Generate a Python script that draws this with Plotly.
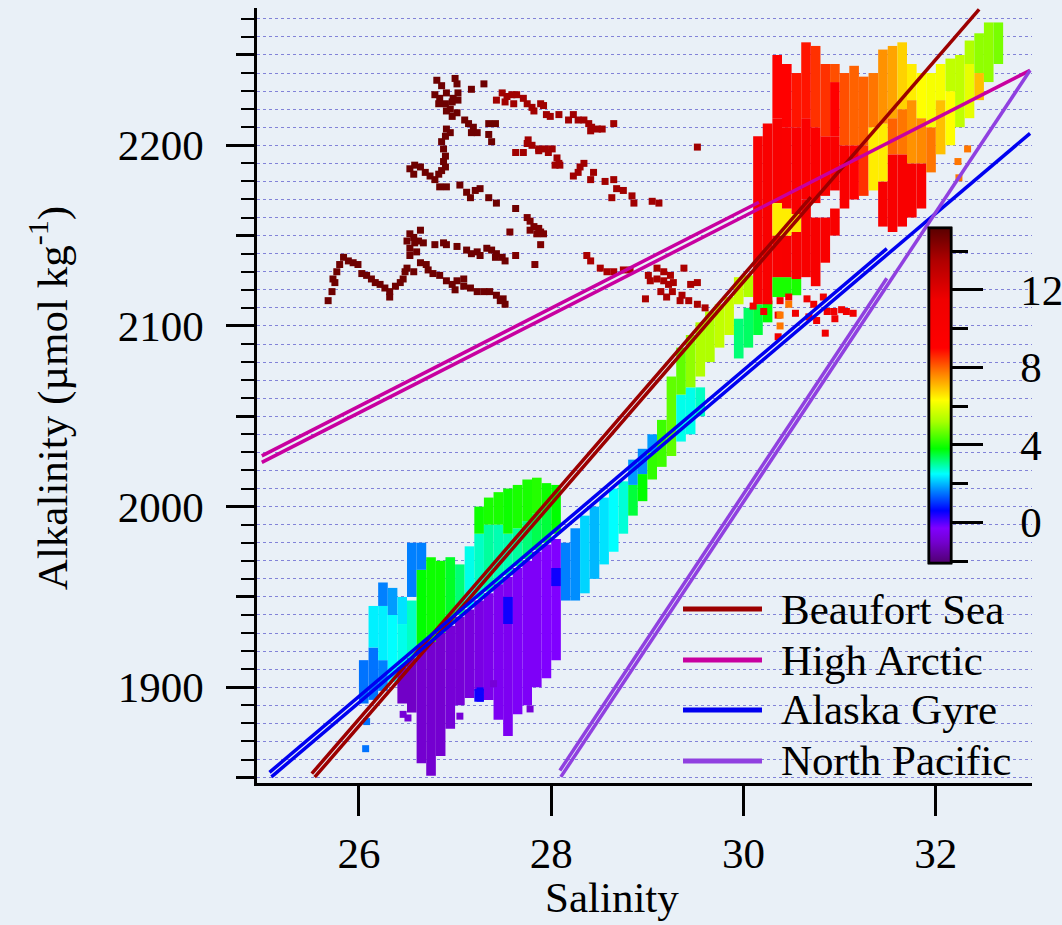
import plotly.graph_objects as go

FONT = "Liberation Serif"
BG = "#e9f0f7"
GRID = "rgba(95,95,205,0.75)"

# ---------------- sparse points (salinity, alkalinity, temperature) ----------------
# dark red points, upper left (T ~ 14.8)
dark_sal = [26.81, 26.86, 27.00, 27.02, 26.79, 26.84, 26.91, 26.98, 27.03, 26.83, 26.90, 26.97, 27.03, 26.95, 27.02,
            26.97, 26.91, 27.17, 27.30, 27.10, 27.14, 27.19, 27.23, 27.17, 26.91, 26.95, 26.90, 26.86, 26.88, 26.90,
            26.88, 26.90, 26.86, 26.53, 26.58, 26.64, 26.69, 26.74, 26.79, 26.83, 26.57, 26.84, 26.91, 27.05, 27.12,
            27.16, 27.21, 27.26, 27.35, 27.43, 27.63, 27.35, 27.42, 27.35, 27.38,
            26.53, 26.57, 26.50, 26.58, 26.53, 26.62, 26.67, 26.64, 26.53, 26.60, 26.79, 26.88, 26.91, 27.02, 27.12,
            27.17, 27.23, 27.26, 27.33, 27.38, 27.43, 27.49, 27.52, 27.42, 26.64, 26.70, 26.72, 26.57, 26.50,
            25.84, 25.89, 25.94, 25.99, 25.80, 25.77, 25.73, 25.75, 25.72, 25.68, 26.03, 26.08, 26.13, 26.17, 26.22,
            26.27, 26.32, 26.38, 26.43, 26.46, 26.48, 26.32, 26.77, 26.84, 26.91, 26.97, 27.02, 27.09, 27.09, 27.16,
            27.23, 27.30, 27.36, 27.43, 27.50, 27.52, 27.47, 27.00]
dark_alk = [2236, 2233, 2237, 2234, 2228, 2226, 2229, 2226, 2229, 2223, 2223, 2224, 2225, 2220, 2218,
            2216, 2219, 2231, 2234, 2214, 2212, 2210, 2207, 2207, 2209, 2207, 2205, 2202, 2198, 2194,
            2191, 2188, 2186, 2187, 2189, 2188, 2185, 2183, 2181, 2184, 2184, 2177, 2177, 2178, 2174,
            2171, 2175, 2176, 2171, 2168, 2165, 2212, 2212, 2206, 2202,
            2151, 2149, 2147, 2146, 2143, 2147, 2146, 2153, 2139, 2141, 2145, 2146, 2145, 2144, 2142,
            2140, 2141, 2139, 2143, 2142, 2140, 2138, 2136, 2138, 2135, 2134, 2131, 2130, 2132,
            2138, 2136, 2135, 2134, 2134, 2130, 2126, 2124, 2119, 2114, 2129, 2128, 2126, 2124, 2123,
            2121, 2119, 2122, 2124, 2126, 2130, 2116, 2129, 2128, 2125, 2123, 2125, 2126, 2122, 2121,
            2119, 2119, 2119, 2117, 2115, 2112, 2114, 2120]
dark_temp = 14.8

# middle cluster (T ~ 14.5)
mid_sal = [27.75, 27.78, 27.82, 27.87, 27.89, 27.92, 27.85, 27.78, 27.89, 27.57, 27.63, 27.83]
mid_alk = [2160, 2158, 2155, 2154, 2152, 2151, 2151, 2153, 2145, 2152, 2139, 2134]
mid_temp = 14.5

# two arcs to the right (T ~ 13.8)
arc_sal = [27.49, 27.54, 27.59, 27.64, 27.71, 27.43, 27.52, 27.61, 27.75, 27.80, 27.89, 27.92, 27.82, 27.95, 27.99,
           28.08, 28.18, 28.23, 28.28, 28.34, 28.39, 28.42, 28.48, 28.53, 28.41, 28.65,
           27.76, 27.75, 27.80, 27.87, 27.87, 27.94, 27.97, 28.01, 28.06, 28.08, 28.04, 28.09, 27.63, 27.71, 28.34,
           28.30, 28.28, 28.23, 28.44, 28.41, 28.56, 28.65, 28.68, 28.75, 28.84, 28.86, 28.63, 29.05, 29.12, 29.52]
arc_alk = [2229, 2227, 2228, 2228, 2226, 2225, 2224, 2223, 2223, 2221, 2223, 2222, 2219, 2217, 2216,
           2217, 2214, 2217, 2214, 2214, 2212, 2210, 2209, 2209, 2208, 2212,
           2203, 2201, 2200, 2198, 2197, 2198, 2196, 2198, 2193, 2190, 2189, 2189, 2196, 2196, 2190,
           2188, 2185, 2183, 2185, 2181, 2180, 2181, 2176, 2175, 2172, 2168, 2171, 2169, 2168, 2199]
arc_temp = 13.8

# lower band of red-brown points (T ~ 13.6)
low_sal = [28.37, 28.41, 28.51, 28.58, 28.65, 28.75, 28.82, 29.01, 29.03, 29.10, 29.17, 29.24, 29.38, 29.10,
           29.17, 29.22, 29.27, 29.26, 29.14, 29.20, 28.98, 29.36, 29.45, 29.52, 29.34, 29.43, 29.52, 29.60]
low_alk = [2139, 2136, 2132, 2130, 2130, 2131, 2131, 2128, 2125, 2132, 2130, 2128, 2132, 2126,
           2125, 2123, 2124, 2119, 2119, 2116, 2115, 2117, 2123, 2124, 2114, 2114, 2112, 2110]
low_temp = 13.6

# red points right of the Beaufort line (T ~ 11.5)
red_sal = [30.10, 30.21, 30.36, 30.38, 30.47, 30.66, 30.68, 30.73, 30.76, 30.83, 30.85, 30.87, 30.94, 30.95,
           31.02, 31.07, 31.14, 30.36, 30.54]
red_alk = [2111, 2108, 2106, 2114, 2116, 2115, 2105, 2112, 2103, 2116, 2096, 2108, 2108, 2104,
           2109, 2108, 2107, 2094, 2107]
red_temp = 11.5

# orange points (T ~ 7.8)
orange_sal = [30.38, 30.38, 30.47, 32.33, 32.23, 32.24]
orange_alk = [2106, 2100, 2112, 2198, 2191, 2182]
orange_temp = 7.8

# isolated specks near the bottom of the low-salinity cloud
speck_sal = [26.08, 26.07, 26.46, 26.51, 27.05, 27.78, 27.40, 27.26, 27.26]
speck_alk = [1881, 1866, 1885, 1883, 1884, 1888, 1902, 1898, 1894]
speck_temp = [1.5, 1.5, -0.9, -0.9, -0.9, -0.9, -0.9, 0.5, 0.5]

# ---------------- dense clouds: vertical runs (salinity, alk low, alk high, temperature) ----------------
lower_sal = [26.05, 26.15, 26.15, 26.25, 26.25, 26.25, 26.35, 26.35, 26.45, 26.45,
             26.55, 26.55, 26.65, 26.65, 26.75, 26.85, 26.95, 27.05, 27.15, 27.25,
             27.25, 27.35, 27.35, 27.45, 27.45, 27.55, 27.55, 27.65, 27.65, 27.75,
             27.75, 27.85, 27.85, 27.95, 27.95, 28.05,
             26.45, 26.55, 26.65, 26.75, 26.85, 26.95, 27.05, 27.15, 27.25, 27.35,
             27.45, 27.55, 27.65, 27.75, 27.85, 27.95, 28.05,
             27.55, 28.05, 27.25]
lower_lo = [1891, 1893, 1922, 1898, 1915, 1945, 1903, 1940, 1908, 1935,
            1912, 1950, 1921, 1965, 1925, 1930, 1935, 1940, 1944, 1949,
            1985, 1953, 1990, 1957, 1990, 1962, 1985, 1967, 1988, 1971,
            1992, 1976, 1996, 1980, 2000, 1985,
            1891, 1886, 1858, 1851, 1862, 1877, 1890, 1894, 1898, 1893,
            1882, 1873, 1885, 1890, 1900, 1905, 1915,
            1935, 1956, 1892]
lower_hi = [1915, 1922, 1945, 1915, 1945, 1958, 1940, 1955, 1935, 1950,
            1948, 1980, 1965, 1980, 1972, 1970, 1972, 1968, 1978, 1985,
            2000, 1990, 2005, 1990, 2008, 1985, 2010, 1988, 2012, 1992,
            2015, 1996, 2016, 2000, 2013, 2012,
            1911, 1916, 1921, 1925, 1930, 1934, 1939, 1943, 1948, 1952,
            1957, 1961, 1966, 1970, 1975, 1979, 1982,
            1950, 1966, 1899]
lower_temp = [1.5, 1.5, 2.4, 1.6, 2.4, 1.6, 2.5, 1.8, 2.6, 2.3,
              2.8, 1.6, 3.8, 1.6, 3.9, 3.9, 3.6, 3.2, 2.6, 2.8,
              3.9, 3.0, 4.0, 2.9, 4.0, 2.9, 3.9, 3.0, 4.0, 3.2,
              4.0, 3.4, 4.1, 3.5, 3.9, 3.8,
              -1.1, -1.1, -1.0, -1.0, -1.0, -0.9, -0.9, -0.8, -0.7, -0.6,
              -0.5, -0.5, -0.4, -0.4, -0.4, -0.3, -0.3,
              0.5, 0.5, 0.5]

middle_sal = [28.15, 28.25, 28.35, 28.45, 28.55, 28.65, 28.75, 28.85, 28.85, 28.95,
              28.95, 29.05, 29.05, 29.15, 29.25, 29.35, 29.35, 29.45, 29.45, 29.55,
              29.55, 29.65, 29.75, 29.85, 29.95, 29.95, 30.05, 30.05, 30.15, 30.25]
middle_lo = [1948, 1948, 1952, 1960, 1968, 1975, 1985, 1995, 2012, 2003,
             2018, 2015, 2030, 2022, 2028, 2036, 2062, 2040, 2066, 2050,
             2072, 2080, 2088, 2095, 2082, 2112, 2088, 2116, 2095, 2102]
middle_hi = [1980, 1988, 1995, 2000, 2005, 2010, 2014, 2012, 2026, 2018,
             2032, 2030, 2040, 2048, 2072, 2062, 2088, 2066, 2095, 2066,
             2102, 2108, 2112, 2116, 2104, 2127, 2110, 2128, 2112, 2114]
middle_temp = [1.6, 1.7, 2.2, 2.0, 2.3, 2.5, 2.7, 3.5, 1.8, 3.8,
               1.7, 4.2, 1.8, 4.3, 4.6, 2.6, 4.6, 2.6, 5.0, 2.8,
               5.3, 5.3, 5.5, 5.6, 3.2, 5.6, 3.3, 5.3, 3.5, 3.8]

upper_sal = [30.15, 30.25, 30.35, 30.35, 30.35, 30.35, 30.35, 30.45, 30.45, 30.45,
             30.45, 30.45, 30.55, 30.55, 30.55, 30.55, 30.55, 30.65, 30.65, 30.65,
             30.75, 30.75, 30.75, 30.85, 30.85, 30.85, 30.95, 30.95, 30.95, 30.95,
             31.05, 31.05, 31.15, 31.15, 31.25, 31.25, 31.35, 31.35, 31.45, 31.45,
             31.45, 31.55, 31.55, 31.55, 31.65, 31.65, 31.65, 31.75, 31.75, 31.75,
             31.85, 31.85, 31.85, 31.95, 31.95, 32.05, 32.05, 32.15, 32.15, 32.25,
             32.35, 32.35, 32.45, 32.45, 32.55, 32.65]
upper_lo = [2112, 2112, 2116, 2127, 2150, 2168, 2215, 2116, 2127, 2150,
            2165, 2210, 2117, 2126, 2152, 2162, 2210, 2127, 2170, 2215,
            2122, 2168, 2210, 2135, 2172, 2205, 2150, 2175, 2205, 2235,
            2165, 2200, 2170, 2200, 2172, 2200, 2175, 2210, 2155, 2180,
            2212, 2152, 2195, 2215, 2155, 2195, 2220, 2160, 2190, 2225,
            2165, 2190, 2215, 2185, 2210, 2195, 2225, 2200, 2230, 2210,
            2215, 2245, 2225, 2240, 2235, 2245]
upper_hi = [2205, 2212, 2127, 2150, 2168, 2215, 2250, 2127, 2150, 2165,
            2210, 2245, 2126, 2152, 2162, 2210, 2240, 2170, 2215, 2257,
            2160, 2210, 2255, 2160, 2205, 2245, 2165, 2205, 2235, 2245,
            2200, 2240, 2200, 2244, 2200, 2238, 2210, 2240, 2180, 2212,
            2253, 2195, 2215, 2255, 2195, 2220, 2257, 2190, 2225, 2245,
            2190, 2215, 2240, 2210, 2240, 2225, 2245, 2230, 2248, 2250,
            2245, 2258, 2240, 2262, 2268, 2268]
upper_temp = [10.0, 10.0, 4.0, 10.0, 6.5, 10.0, 9.0, 4.0, 10.2, 6.5,
              9.8, 9.0, 4.0, 10.2, 6.6, 9.8, 8.8, 10.2, 9.6, 8.8,
              10.2, 9.6, 8.5, 10.0, 9.8, 8.5, 10.0, 9.8, 9.0, 8.2,
              9.8, 8.2, 9.0, 8.0, 8.5, 8.0, 6.5, 7.8, 10.0, 6.5,
              7.5, 10.0, 8.0, 7.3, 10.0, 7.8, 6.8, 10.0, 7.5, 6.5,
              9.8, 7.6, 6.3, 7.8, 6.2, 7.0, 6.2, 6.3, 5.5, 5.5,
              6.0, 5.3, 7.0, 5.0, 5.0, 4.8]

# ---------------- regional fit lines (salinity, alkalinity end points) ----------------
lines = [
    ("Beaufort Sea", "#9c0000", [25.54, 32.45], [1850.2, 2275.2], [25.51, 30.70], [1852.2, 2171.3]),
    ("High Arctic", "#c800a0", [24.99, 32.98], [2024.5, 2241.5], [24.99, 30.16], [2028.1, 2168.5]),
    ("Alaska Gyre", "#0000f0", [25.09, 32.98], [1850.4, 2206.6], [25.07, 31.49], [1852.9, 2142.8]),
    ("North Pacific", "#9040e0", [28.10, 32.98], [1850.4, 2241.5], [28.09, 31.49], [1853.9, 2126.4]),
]

# colour scale: temperature stops
cs_temp = [-2.1, -1.0, -0.3, 0.6, 1.6, 2.5, 3.8, 5.2, 6.3, 7.7, 9.0, 11.5, 13.5, 15.2]
cs_col = ['#500070', '#7400d0', '#8000ff', '#0000ff', '#0080ff', '#00ffff', '#00ff00',
          '#a8ff00', '#ffff00', '#ff8000', '#ff0000', '#f00000', '#b00000', '#5a0000']
T_MIN, T_MAX = cs_temp[0], cs_temp[-1]
colorscale = [[(t - T_MIN) / (T_MAX - T_MIN), c] for t, c in zip(cs_temp, cs_col)]

fig = go.Figure()

for s, lo, hi, t, cax in [(lower_sal, lower_lo, lower_hi, lower_temp, "coloraxis"),
                          (middle_sal, middle_lo, middle_hi, middle_temp, "coloraxis3"),
                          (upper_sal, upper_lo, upper_hi, upper_temp, "coloraxis")]:
    fig.add_trace(go.Bar(x=s, base=lo, y=[h - l for l, h in zip(lo, hi)], width=0.1,
                         marker=dict(color=t, coloraxis=cax, line=dict(width=0)),
                         showlegend=False, hoverinfo="skip"))

pts_sal, pts_alk, pts_temp = [], [], []
for s, a, t in [(dark_sal, dark_alk, dark_temp), (mid_sal, mid_alk, mid_temp),
                (arc_sal, arc_alk, arc_temp), (low_sal, low_alk, low_temp),
                (red_sal, red_alk, red_temp), (orange_sal, orange_alk, orange_temp)]:
    pts_sal += s
    pts_alk += a
    pts_temp += [t] * len(s)
pts_sal += speck_sal
pts_alk += speck_alk
pts_temp += speck_temp

fig.add_trace(go.Scatter(x=pts_sal, y=pts_alk, mode="markers",
                         marker=dict(symbol="square", size=7, color=pts_temp, coloraxis="coloraxis2",
                                     line=dict(width=0)),
                         showlegend=False, hoverinfo="skip"))

for name, col, s1, a1, s2, a2 in lines:
    fig.add_trace(go.Scatter(x=s2, y=a2, mode="lines", line=dict(color=col, width=3.5),
                             showlegend=False, yaxis="y2", hoverinfo="skip"))
    fig.add_trace(go.Scatter(x=s1, y=a1, mode="lines", line=dict(color=col, width=3.5),
                             name=name, showlegend=False, yaxis="y2", hoverinfo="skip"))

YR = [1847, 2276]
XR = [24.94, 33.0]
tickfont = dict(family=FONT, size=43, color="black")

cb_common = dict(x=0.867, xanchor="left", xpad=0, y=0.5, yanchor="middle", ypad=0,
                 len=335, lenmode="pixels", thickness=22, thicknessmode="pixels",
                 outlinewidth=2.5, outlinecolor="black", ticks="outside", tickwidth=2.5,
                 tickfont=tickfont, tickmode="array")

fig.update_layout(
    width=1062, height=925,
    margin=dict(l=257, r=30, t=8, b=142, autoexpand=False),
    paper_bgcolor=BG, plot_bgcolor=BG,
    barmode="overlay", showlegend=False,
    font=dict(family=FONT, size=43, color="black"),
    # labels only (invisible long ticks push the labels away from the bar)
    coloraxis=dict(cmin=T_MIN, cmax=T_MAX, colorscale=colorscale,
                   colorbar=dict(**cb_common, ticklen=60, tickcolor="rgba(0,0,0,0)",
                                 tickvals=[0, 4, 8, 12])),
    # major ticks
    coloraxis2=dict(cmin=T_MIN, cmax=T_MAX, colorscale=colorscale,
                    colorbar=dict(**cb_common, ticklen=31, tickcolor="black", tickvals=[0, 4, 8, 12],
                                  showticklabels=False)),
    # minor ticks
    coloraxis3=dict(cmin=T_MIN, cmax=T_MAX, colorscale=colorscale,
                    colorbar=dict(**cb_common, ticklen=16, tickcolor="black", tickvals=[-2, 2, 6, 10, 14],
                                  showticklabels=False)),
    xaxis=dict(range=XR, tick0=26, dtick=2, ticks="outside", ticklen=30, tickwidth=2.5, tickcolor="black",
               showline=True, linewidth=2.5, linecolor="black", showgrid=False, zeroline=False,
               tickfont=tickfont, ticklabelstandoff=1),
    yaxis=dict(range=YR, tick0=1900, dtick=100, ticks="outside", ticklen=28, tickwidth=2.5,
               tickcolor="black", showline=True, linewidth=2.5, linecolor="black",
               showgrid=True, gridcolor=GRID, griddash="dot", gridwidth=1.3, zeroline=False,
               tickfont=tickfont, ticklabelstandoff=14,
               minor=dict(tick0=1850, dtick=10, ticks="outside", ticklen=13, tickwidth=2, tickcolor="black",
                          showgrid=True, gridcolor=GRID, griddash="dot", gridwidth=1.3)),
    yaxis2=dict(range=YR, overlaying="y", side="left", anchor="x", tickmode="array",
                tickvals=[1850, 1950, 2050, 2150, 2250], ticks="outside", ticklen=20, tickwidth=2.5,
                tickcolor="black", showticklabels=False, showgrid=False, zeroline=False, showline=False),
)

# axis titles
fig.add_annotation(text="Alkalinity (µmol kg<sup>-1</sup>)", xref="paper", yref="paper",
                   x=-0.268, y=0.497, xanchor="center", yanchor="middle", textangle=-90,
                   showarrow=False, font=dict(family=FONT, size=43, color="black"))
fig.add_annotation(text="Salinity", xref="paper", yref="paper", x=0.458, y=-0.181,
                   xanchor="center", yanchor="bottom", showarrow=False,
                   font=dict(family=FONT, size=43, color="black"))

# legend drawn inside the plot
leg_y = [0.2245, 0.1587, 0.0942, 0.0284]
for (name, col, *_), yy in zip(lines, leg_y):
    fig.add_shape(type="line", xref="paper", yref="paper", x0=0.5497, x1=0.6516, y0=yy, y1=yy,
                  line=dict(color=col, width=5))
    fig.add_annotation(text=name, xref="paper", yref="paper", x=0.6735, y=yy, xanchor="left",
                       yanchor="middle", showarrow=False, font=dict(family=FONT, size=43, color="black"))

fig.write_html("out.html")
